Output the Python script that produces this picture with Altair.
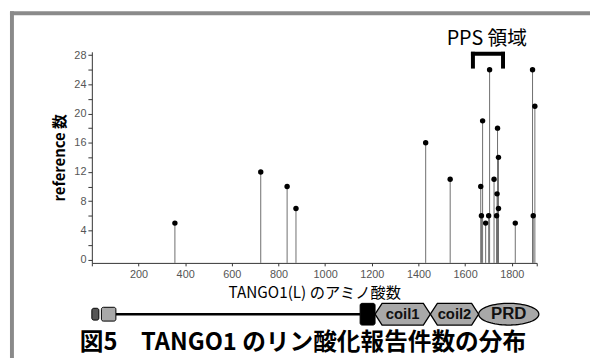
import altair as alt
import pandas as pd
import numpy as np

# ---- data ----
positions = [356, 724, 837, 875, 1431, 1536, 1667, 1670, 1675, 1688, 1701, 1705,
             1724, 1735, 1737, 1739, 1743, 1743, 1815, 1889, 1892, 1899]
counts = [5, 12, 10, 7, 16, 11, 10, 6, 19, 5, 6, 26,
          11, 6, 9, 18, 14, 7, 5, 26, 6, 21]

x_ticks = [0, 200, 400, 600, 800, 1000, 1200, 1400, 1600, 1800, 1907]
y_ticks = list(range(0, 29, 2))

protein_len = 1907
# protein schematic (amino-acid positions)
box_names = ["n1", "n2", "tm"]
box_start = [0, 41, 1150]
box_end = [30, 103, 1214]
box_fill = ["#555555", "#a8a8a8", "#000000"]
linker = [103, 1150]
hex_names = ["coil1", "coil2"]
hex_start = [1214, 1451]
hex_end = [1451, 1658]
prd_range = [1658, 1916]
pps_range = [1625, 1771]

# ---- layout ----
W, H = 451, 214
YMAX, YMIN = 28.45, -0.45


def px2y(p):
    return YMAX - p * (YMAX - YMIN) / H


JP = "Noto Sans CJK JP"
xs = alt.Scale(domain=[0, protein_len], nice=False, zero=False)
ys = alt.Scale(domain=[YMIN, YMAX], nice=False, zero=False)
XT = "TANGO1(L) のアミノ酸数"
YT = "reference 数"

xaxis = alt.Axis(values=x_ticks, format="d",
                 labelExpr="datum.value > 0 && datum.value < 1900 ? datum.label : ''",
                 tickSize=3, labelPadding=3, labelFontSize=11, labelFont="Liberation Sans",
                 labelColor="#555555", domainColor="#333333", tickColor="#333333", grid=False,
                 titleFont=JP, titleFontSize=15.5, titleFontWeight="normal", titleColor="#000000",
                 titleY=30, titleBaseline="middle")
yaxis = alt.Axis(values=y_ticks, format="d", labelExpr="datum.value % 4 == 0 ? datum.label : ''",
                 tickSize=4, labelPadding=2, labelFontSize=11, labelFont="Liberation Sans",
                 labelColor="#555555", domainColor="#333333", tickColor="#333333", grid=False,
                 titleFont=JP, titleFontSize=15, titleFontWeight="bold", titleColor="#000000",
                 titleAngle=270, titleX=-25, titleY=H / 2, titleAlign="center", titleBaseline="bottom")


def X(f):
    return alt.X(f, type="quantitative", scale=xs, axis=xaxis, title=XT)


def Y(f):
    return alt.Y(f, type="quantitative", scale=ys, axis=yaxis, title=YT)


df = pd.DataFrame({"pos": positions, "count": counts})
one = pd.DataFrame({"a": [0]})

stems = alt.Chart(df).mark_rule(color="#6e6e6e", strokeWidth=1).encode(
    x=X("pos"), y=Y("count"), y2=alt.value(H))
dots = alt.Chart(df).mark_circle(size=30, color="#000000", opacity=1).encode(
    x=X("pos"), y=Y("count"))

# frame
frame_top = alt.Chart(one).mark_rect(color="#8a8a8a").encode(
    x=alt.value(-83), x2=alt.value(520), y=alt.value(-41), y2=alt.value(-37))
frame_left = alt.Chart(one).mark_rect(color="#8a8a8a").encode(
    x=alt.value(-83), x2=alt.value(-79), y=alt.value(-41), y2=alt.value(320))

# PPS bracket
bw = 17
br = pd.DataFrame({"s": [pps_range[0], pps_range[0], pps_range[1] - bw],
                   "e": [pps_range[1], pps_range[0] + bw, pps_range[1]],
                   "t": [0, 0, 0], "b": [4, 17, 17]})
bracket = alt.Chart(br).mark_rect(color="#000000").encode(
    x=X("s"), x2="e", y=alt.Y("t:Q", scale=None), y2="b")
pps_text = alt.Chart(one).mark_text(text="PPS 領域", font=JP, fontSize=20, color="#000000",
                                    baseline="middle", align="center").encode(
    x=alt.datum((pps_range[0] + pps_range[1]) / 2 - 5, type="quantitative", scale=xs),
    y=alt.value(-13))

# protein schematic
bx = pd.DataFrame({"name": box_names, "s": box_start, "e": box_end, "fill": box_fill,
                   "t": [260, 259, 255], "b": [272, 273, 277]})
boxes = alt.Chart(bx).mark_rect(stroke="#000000", strokeWidth=1, cornerRadius=2).encode(
    x=X("s"), x2="e", y=alt.Y("t:Q", scale=None), y2="b",
    fill=alt.Fill("fill:N", scale=None))
line = alt.Chart(pd.DataFrame({"s": [linker[0]], "e": [linker[1]]})).mark_rule(
    color="#000000", strokeWidth=2.5).encode(x=X("s"), x2="e", y=alt.value(266))

yc, yt, yb = px2y(266), px2y(255), px2y(277)
inset = 30
rows = []
for n, s, e in zip(hex_names, hex_start, hex_end):
    rows += [(n, s, yc, yc), (n, s + inset, yt, yb), (n, e - inset, yt, yb), (n, e, yc, yc)]
t = np.linspace(0, np.pi, 41)
cx, a = (prd_range[0] + prd_range[1]) / 2, (prd_range[1] - prd_range[0]) / 2
for ti in t:
    rows.append(("PRD", cx - a * np.cos(ti), yc + (yt - yc) * np.sin(ti), yc - (yt - yc) * np.sin(ti)))
hx = pd.DataFrame(rows, columns=["name", "x", "top", "bot"])
hexes = alt.Chart(hx).mark_area(fill="#a8a8a8", stroke="#000000", strokeWidth=1.3,
                                 opacity=1).encode(
    x=X("x"), y=Y("top"), y2="bot", detail="name:N")
lab = pd.DataFrame({"name": hex_names + ["PRD"],
                    "c": [(s + e) / 2 for s, e in zip(hex_start, hex_end)] + [cx],
                    "fs": [15, 15, 17]})
labels = alt.Chart(lab).mark_text(font="Liberation Sans", fontWeight="bold", color="#111111",
                                  baseline="middle", align="center").encode(
    x=X("c"), y=alt.value(266), text="name:N", size=alt.Size("fs:Q", scale=None))

caption = alt.Chart(one).mark_text(text="図5　TANGO1 のリン酸化報告件数の分布", font=JP,
                                   fontSize=24, fontWeight="bold", color="#000000",
                                   baseline="middle", align="center").encode(
    x=alt.value(214), y=alt.value(295))

chart = alt.layer(frame_top, frame_left, stems, dots, bracket, pps_text, line, boxes, hexes,
                  labels, caption).properties(
    width=W, height=H,
    autosize=alt.AutoSizeParams(type="none"),
    padding={"left": 85, "top": 42, "right": 54, "bottom": 94},
    background="#ffffff",
).configure_view(stroke=None)

chart.save("out.html", embed_options={"renderer": "svg", "actions": False})
